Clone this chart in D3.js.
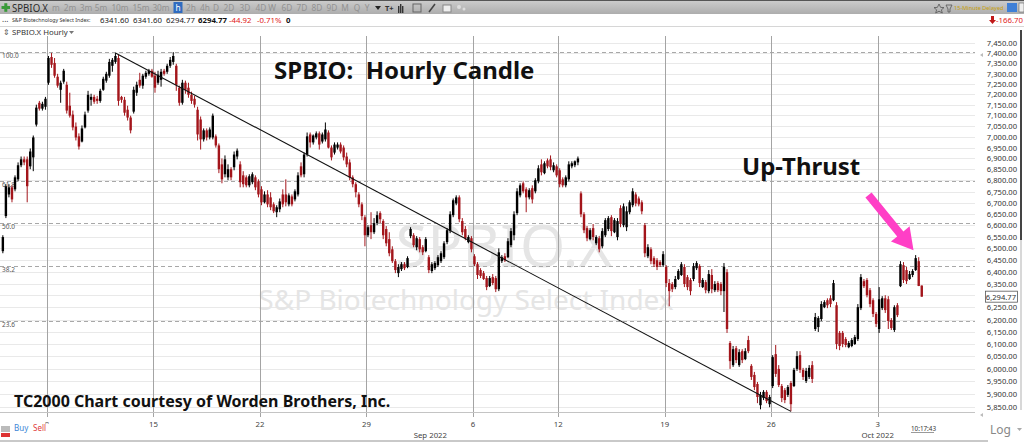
<!DOCTYPE html>
<html><head><meta charset="utf-8">
<script src="https://cdn.jsdelivr.net/npm/d3@7"></script>
<style>body{margin:0;background:#fff;} svg{display:block;} text{font-family:"Noto Sans","Open Sans",sans-serif;}</style>
</head><body><svg id="c" width="1024" height="442"></svg>
<script>
// ---------- DATA (hourly bars, SPBIO.X) ----------
const opens=[6488,6641,6737,6769,6760,6805,6869,6896,6896,6864,6905,7057,7160,7132,7141,
7256,7381,7352,7285,7222,7261,7246,7146,7104,7048,7002,6978,7044,7123,7174,7188,7179,7169,7222,7266,7290,7338,7357,7376,7188,7174,7127,7090,7118,7208,7270,7242,7285,7299,7314,
7290,7256,7270,7314,7309,7338,7357,7338,7232,7160,7256,7232,7198,7179,7127,7081,6988,7030,6997,6997,7002,6960,6873,6828,6814,6851,6860,6909,6873,6823,6814,6778,6792,6814,6796,
6760,6702,6737,6724,6693,6658,6671,6737,6737,6693,6728,6715,6737,6864,6828,6918,7011,6974,6997,7016,6978,6988,7020,6950,6927,6950,6964,6950,6909,6882,6814,6783,6737,6693,6636,
6557,6601,6570,6610,6654,6619,6584,6540,6496,6445,6394,6411,6432,6420,6553,6557,6505,6540,6505,6488,6462,6403,6415,6428,6445,6462,6527,6575,6645,6697,6724,6619,6584,6527,6544,
6466,6432,6407,6394,6373,6339,6377,6373,6326,6445,6466,6462,6514,6557,6654,6733,6787,6760,6724,6765,6751,6796,6873,6833,6891,6896,6846,6864,
6846,6805,6778,6805,6864,6869,6882,
6742,6649,6588,6540,6588,6522,6544,6509,6557,6584,6636,6570,6549,6676,6601,6592,6658,6689,6737,6719,6702,6601,6466,6496,6458,6449,6441,6428,
6420,6352,6348,6335,6369,6386,6420,6377,6365,6369,6415,6424,6335,6356,6318,6386,6322,6352,6348,6318,6398,6104,6015,6083,6015,6071,6039,6116,6012,5976,5940,5857,5885,5909,5861,
5932,6059,6000,5932,5916,5897,5944,5932,6000,6055,5996,5952,5968,6015,6161,6169,6202,6251,6280,6288,6280,6259,6145,6145,6120,6087,6092,6100,6120,6247,6360,6365,6322,6280,6223,
6161,6247,6288,6284,6198,6157,6259,6339,6428,6407,6369,6386,6407,6445,6341.60];
const highs=[6557,6783,6783,6778,6823,6882,6909,6909,6909,6946,7006,7151,7169,7165,7188,
7386,7401,7376,7299,7266,7323,7261,7208,7123,7067,7016,7053,7118,7217,7203,7198,7193,7227,7285,7309,7372,7376,7401,7391,7193,7188,7146,7099,7237,7261,7304,7299,7314,7323,7323,
7309,7314,7323,7323,7348,7381,7405,7348,7242,7270,7266,7256,7213,7193,7141,7095,7039,7039,7044,7109,7011,6969,6900,6914,6873,6860,6932,6946,6887,6842,6823,6828,6837,6823,6805,
6774,6751,6756,6747,6702,6689,6719,6760,6805,6742,6737,6760,6837,6882,6927,7020,7020,7011,7025,7025,7020,7067,7030,6960,6974,6974,6974,6960,6927,6896,6823,6792,6747,6702,6645,
6601,6658,6632,6662,6662,6627,6597,6570,6509,6454,6432,6441,6441,6466,6592,6566,6553,6549,6514,6549,6471,6441,6445,6471,6488,6531,6588,6662,6719,6733,6733,6632,6597,6557,6553,
6475,6441,6415,6403,6382,6382,6390,6382,6500,6471,6479,6544,6588,6662,6765,6787,6796,6769,6765,6778,6810,6869,6896,6887,6900,6914,6882,6873,
6855,6814,6823,6887,6887,6891,6909,
6751,6658,6597,6588,6606,6557,6553,6588,6632,6641,6645,6632,6632,6689,6697,6684,6711,6765,6747,6728,6711,6610,6518,6505,6466,6458,6449,6488,
6428,6369,6356,6382,6411,6441,6432,6386,6373,6437,6445,6432,6373,6365,6407,6411,6360,6360,6356,6437,6411,6112,6092,6092,6079,6079,6083,6133,6019,5988,5948,5909,5916,5916,5897,
6055,6096,6015,5940,5924,5936,5952,6004,6071,6071,6004,6004,6015,6031,6227,6214,6276,6280,6288,6301,6365,6272,6153,6153,6128,6112,6124,6137,6264,6390,6369,6373,6331,6288,6231,
6335,6297,6301,6297,6206,6259,6268,6445,6441,6420,6403,6411,6471,6462,6341.60];
const lows=[6479,6632,6724,6702,6751,6796,6860,6869,6702,6851,6842,7048,7123,7123,7127,
7246,7328,7280,7232,7160,7251,7109,7090,7030,6983,6941,6974,7039,7113,7146,7155,7155,7160,7217,7256,7280,7309,7348,7146,7160,7099,7076,7016,7109,7193,7232,7227,7275,7290,7280,
7208,7246,7237,7290,7299,7328,7343,7217,7146,7151,7203,7184,7155,7137,6983,6941,6978,6983,6988,6988,6950,6833,6787,6814,6801,6801,6846,6896,6769,6769,6769,6769,6783,6756,6724,
6689,6697,6680,6667,6654,6636,6658,6680,6684,6684,6684,6706,6728,6814,6814,6909,6950,6964,6988,6941,6969,6978,6946,6891,6918,6941,6923,6891,6860,6801,6769,6724,6680,6623,6509,
6549,6540,6562,6601,6610,6540,6509,6466,6437,6394,6377,6403,6407,6415,6544,6505,6492,6483,6471,6483,6394,6394,6407,6420,6437,6454,6518,6566,6636,6689,6614,6557,6535,6522,6483,
6424,6369,6373,6365,6322,6335,6343,6314,6318,6437,6441,6458,6505,6535,6645,6724,6742,6658,6715,6697,6742,6787,6823,6828,6855,6846,6837,6814,
6769,6769,6769,6796,6855,6860,6869,
6636,6566,6531,6535,6535,6514,6483,6500,6549,6575,6553,6566,6535,6592,6592,6575,6649,6680,6684,6684,6649,6462,6458,6432,6420,6407,6420,6420,
6335,6255,6314,6326,6365,6382,6335,6322,6301,6360,6407,6335,6331,6309,6309,6309,6314,6314,6301,6231,6145,6000,6008,6023,6008,6023,6035,6063,5956,5916,5865,5841,5877,5865,5849,
5924,5968,5928,5869,5865,5889,5833,5928,5992,5984,5956,5944,5960,5944,6153,6149,6194,6247,6247,6251,6276,6079,6075,6087,6087,6083,6087,6096,6112,6239,6331,6292,6251,6210,6169,
6145,6239,6227,6161,6157,6149,6210,6335,6352,6348,6365,6377,6403,6339,6294.77];
const closes=[6549,6774,6769,6715,6814,6869,6896,6882,6774,6932,6997,7137,7132,7155,7179,
7376,7343,7290,7242,7256,7314,7123,7099,7044,6997,6955,7039,7104,7198,7188,7165,7169,7217,7275,7299,7357,7367,7386,7169,7174,7113,7090,7030,7222,7246,7242,7290,7304,7314,7285,
7232,7295,7309,7299,7338,7367,7386,7246,7160,7256,7222,7198,7169,7151,7011,6988,7030,6997,7034,7099,6960,6851,6805,6896,6851,6814,6918,6936,6792,6783,6778,6819,6828,6769,6737,
6702,6737,6693,6680,6662,6680,6706,6693,6702,6733,6693,6751,6823,6823,6918,7002,6974,7006,7016,6964,7011,7034,6950,6905,6964,6964,6932,6905,6873,6814,6783,6747,6693,6641,6557,
6592,6570,6610,6645,6627,6557,6522,6479,6445,6407,6420,6432,6415,6458,6584,6514,6544,6496,6483,6540,6407,6432,6437,6462,6479,6522,6579,6649,6711,6724,6627,6570,6544,6549,6496,
6432,6386,6382,6369,6335,6373,6352,6326,6483,6462,6449,6531,6575,6649,6751,6778,6751,6724,6756,6715,6801,6855,6837,6878,6864,6860,6869,6823,
6783,6778,6814,6873,6878,6887,6900,
6649,6579,6544,6579,6549,6549,6496,6575,6623,6632,6575,6623,6619,6606,6684,6662,6702,6751,6697,6693,6662,6479,6505,6445,6432,6420,6428,6475,
6352,6318,6326,6369,6403,6432,6348,6335,6318,6424,6437,6352,6365,6322,6390,6326,6348,6322,6318,6420,6161,6031,6079,6035,6067,6035,6071,6071,5968,5928,5889,5897,5909,5873,5889,
6047,5980,5936,5885,5877,5928,5861,5996,6051,5996,5968,5992,6004,5960,6210,6206,6264,6272,6259,6264,6352,6100,6092,6100,6096,6104,6116,6128,6251,6377,6339,6301,6264,6223,6182,
6284,6288,6239,6194,6165,6251,6218,6432,6365,6360,6390,6403,6458,6339.69,6294.77];

const weekStartIdx=[15,50,85,120,155,183,218,253,288];
const weekLabels=["8","15","22","29","6","12","19","26","3"];
const monthStartIdx=[141,288];
const monthLabels=["Sep 2022","Oct 2022"];
const priceTicks=[5850,5900,5950,6000,6050,6100,6150,6200,6250,6300,6350,6400,6450,6500,6550,6600,6650,6700,6750,6800,6850,6900,6950,7000,7050,7100,7150,7200,7250,7300,7350,7400,7450];
const fibLevels=[100,61.8,50,38.2,23.6];
const fibLabels=["100.0","61.8","50.0","38.2","23.6"];
const fibHigh=7405, fibLow=5820;
const lastPrice=6294.77;
const trendPts=[{i:37,p:7401},{i:259,p:5833}];
const arrowPts=[{i:284.5,p:6735},{i:299.3,p:6492}];
const quote={name:"S&P Biotechnology Select Index:",o:"6341.60",h:"6341.60",l:"6294.77",c:"6294.77",chg:"-44.92",pct:"-0.71%",vol:"0"};
const timeframes=["m","2m","3m","5m","10m","15m","30m","h","2h","4h","D","2D","3D","4D","W","6D","7D","8D","9D","M","Q","Y"];

// ---------- SCALES ----------
const svg=d3.select("#c");
const PLOT_R=975, PLOT_T=36, PLOT_B=412;
const x=d3.scaleLinear().domain([-0.5,319.5]).range([1.33,PLOT_R]);
const y=d3.scaleLog().domain([5850,7450]).range([407,43]);
const RED="#a3151b", BLK="#000";

svg.append("rect").attr("width",1024).attr("height",442).attr("fill","#fff");

// ---------- header ----------
const grad=svg.append("defs").append("linearGradient").attr("id","tb").attr("x1",0).attr("x2",0).attr("y1",0).attr("y2",1);
grad.append("stop").attr("offset",0).attr("stop-color","#cdcdcd");
grad.append("stop").attr("offset",1).attr("stop-color","#adadad");
svg.append("rect").attr("x",0).attr("y",0).attr("width",1024).attr("height",14).attr("fill","url(#tb)");
svg.append("rect").attr("x",0).attr("y",0).attr("width",1024).attr("height",1).attr("fill","#555");
svg.append("rect").attr("x",1.5).attr("y",6).attr("width",8.5).attr("height",3).attr("fill","#3a9a3a");
svg.append("rect").attr("x",4.3).attr("y",3.2).attr("width",3).attr("height",8.6).attr("fill","#3a9a3a");
svg.append("text").attr("x",12).attr("y",11.5).attr("font-size",11).attr("textLength",36).attr("lengthAdjust","spacingAndGlyphs").attr("fill","#2b2b2b").text("SPBIO.X");
const tfX=[56,70,86,101,120,141,161,178,191,205,216,229,245,261,272,287,302,317,332,345,357,367];
svg.append("rect").attr("x",173.5).attr("y",2).attr("width",9).attr("height",11).attr("fill","#2f6cc0");
svg.selectAll("text.tf").data(timeframes).join("text").attr("class","tf").attr("x",(d,k)=>tfX[k]).attr("y",10.5)
  .attr("text-anchor","middle").attr("font-size",8.3).attr("fill",d=>d==="h"?"#fff":"#929292").text(d=>d);
svg.append("path").attr("d","M375,6 L381,6 L378,10 Z").attr("fill","#222");
svg.append("text").attr("x",385).attr("y",10.5).attr("font-size",7.5).attr("font-weight","bold").attr("fill","#333").text("T+");
[0,2,4].forEach((o,k)=>svg.append("rect").attr("x",398+o).attr("y",5+(k===1?-1:1)).attr("width",1.4).attr("height",7-(k===1?-2:0)).attr("fill","#333"));
svg.append("rect").attr("x",413).attr("y",4).attr("width",8).attr("height",8).attr("fill","none").attr("stroke","#666");
svg.append("line").attr("x1",429).attr("y1",12).attr("x2",435).attr("y2",4).attr("stroke","#444").attr("stroke-width",1.5);
svg.append("rect").attr("x",443).attr("y",5).attr("width",8).attr("height",7).attr("fill","#eee").attr("stroke","#888");
svg.append("circle").attr("cx",459).attr("cy",7).attr("r",2).attr("fill","#ddd");
svg.append("circle").attr("cx",464).attr("cy",9).attr("r",1.5).attr("fill","#ddd");
svg.append("path").attr("d","M939,4 L940.6,7.4 L944,7.6 L941.4,9.8 L942.3,13 L939,11.2 L935.7,13 L936.6,9.8 L934,7.6 L937.4,7.4 Z").attr("fill","none").attr("stroke","#555").attr("stroke-width",0.8);
svg.append("path").attr("d","M946,5 L952,5 L950,9 L950,12 L948,12 L948,9 Z").attr("fill","none").attr("stroke","#555").attr("stroke-width",0.8);
svg.append("text").attr("x",954).attr("y",10).attr("font-size",5.6).attr("fill","#c9a10a").text("15-Minute Delayed");
svg.append("rect").attr("x",1007).attr("y",3).attr("width",10).attr("height",9).attr("fill","#3f7fd6");
svg.append("rect").attr("x",1019).attr("y",3).attr("width",5).attr("height",9).attr("fill","#eee").attr("stroke","#666").attr("stroke-width",0.6);

svg.append("text").attr("x",2).attr("y",22).attr("font-size",8).attr("fill","#333").text("...");
svg.append("text").attr("x",12).attr("y",21.5).attr("font-size",5.2).attr("fill","#333").text(quote.name);
const q2=[[quote.o,100,"#222","normal"],[quote.h,133,"#222","normal"],[quote.l,166,"#222","normal"],[quote.c,198,"#111","bold"],[quote.chg,229,"#e02020","normal"],[quote.pct,257,"#e02020","normal"],[quote.vol,286,"#111","bold"]];
svg.selectAll("text.q").data(q2).join("text").attr("class","q").attr("x",d=>d[1]).attr("y",23).attr("font-size",7.8)
  .attr("fill",d=>d[2]).attr("font-weight",d=>d[3]).text(d=>d[0]);
svg.append("path").attr("d","M991,16 L994,16 L994,20 L996,20 L992.5,24 L989,20 L991,20 Z").attr("fill","#c01818");
svg.append("text").attr("x",996).attr("y",23).attr("font-size",7.8).attr("fill","#e02020").text("-166.70");
svg.append("line").attr("x1",0).attr("x2",1024).attr("y1",26.5).attr("y2",26.5).attr("stroke","#d6d6d6");
svg.append("text").attr("x",3).attr("y",35).attr("font-size",7.5).attr("fill","#555").text("\u21D5");
svg.append("text").attr("x",12).attr("y",35).attr("font-size",7.8).attr("fill","#333").text("SPBIO.X Hourly");
svg.append("path").attr("d","M69,31 L74,31 L71.5,34 Z").attr("fill","#777");

// ---------- plot ----------
const plot=svg.append("g");
plot.selectAll("line.hg").data(priceTicks).join("line").attr("class","hg")
  .attr("x1",0).attr("x2",PLOT_R).attr("y1",d=>Math.round(y(d))+0.5).attr("y2",d=>Math.round(y(d))+0.5)
  .attr("stroke","#e9e9e9").attr("stroke-width",1);
plot.append("text").attr("x",504).attr("y",267).attr("text-anchor","middle").attr("font-size",58)
  .attr("fill","#e5e5e5").text("SPBIO.X");
plot.append("text").attr("x",466).attr("y",310).attr("text-anchor","middle").attr("font-size",28)
  .attr("fill","#e5e5e5").text("S&P Biotechnology Select Index");
const fibY=l=>y(fibLow+l/100*(fibHigh-fibLow));
plot.selectAll("line.fib").data(fibLevels).join("line").attr("class","fib")
  .attr("x1",0).attr("x2",PLOT_R).attr("y1",d=>Math.round(fibY(d))+0.5).attr("y2",d=>Math.round(fibY(d))+0.5)
  .attr("stroke","#a8a8a8").attr("stroke-dasharray","4,3");
plot.selectAll("text.fibl").data(fibLevels).join("text").attr("class","fibl")
  .attr("x",2).attr("y",d=>fibY(d)+6).attr("font-size",6.5).attr("fill","#555").text((d,k)=>fibLabels[k]);
plot.selectAll("line.vg").data(weekStartIdx).join("line").attr("class","vg")
  .attr("x1",d=>Math.round(x(d-0.5))+0.5).attr("x2",d=>Math.round(x(d-0.5))+0.5).attr("y1",PLOT_T).attr("y2",PLOT_B+5)
  .attr("stroke","#a4a4a4");
plot.append("line").attr("x1",0).attr("x2",PLOT_R).attr("y1",PLOT_B+0.5).attr("y2",PLOT_B+0.5).attr("stroke","#c4c4c4");

svg.append("clipPath").attr("id","pc").append("rect").attr("x",0).attr("y",PLOT_T).attr("width",PLOT_R).attr("height",PLOT_B-PLOT_T+1);
const bars=opens.map((o,i)=>({i,o,h:highs[i],l:lows[i],c:closes[i]}));
const cg=plot.append("g").attr("clip-path","url(#pc)");
cg.selectAll("line.wick").data(bars).join("line").attr("class","wick")
  .attr("x1",d=>x(d.i)).attr("x2",d=>x(d.i)).attr("y1",d=>y(d.h)).attr("y2",d=>y(d.l))
  .attr("stroke",d=>d.c<d.o?RED:BLK).attr("stroke-width",1);
cg.selectAll("rect.body").data(bars).join("rect").attr("class","body")
  .attr("x",d=>x(d.i)-1.2).attr("width",2.4)
  .attr("y",d=>y(Math.max(d.o,d.c))).attr("height",d=>Math.max(1,Math.abs(y(d.o)-y(d.c))))
  .attr("fill",d=>d.c<d.o?RED:BLK);

plot.append("line").attr("x1",x(trendPts[0].i)).attr("y1",y(trendPts[0].p)).attr("x2",x(trendPts[1].i)).attr("y2",y(trendPts[1].p))
  .attr("stroke","#111").attr("stroke-width",1.1);

svg.append("text").attr("x",274).attr("y",78.5).attr("font-family","Liberation Sans, Arial, sans-serif").attr("font-weight","bold").attr("font-size",24).attr("fill","#111").attr("xml:space","preserve").text("SPBIO:  Hourly Candle");
svg.append("text").attr("x",742).attr("y",175).attr("font-family","Liberation Sans, Arial, sans-serif").attr("font-weight","bold").attr("font-size",24).attr("fill","#111").text("Up-Thrust");
svg.append("text").attr("x",14).attr("y",407).attr("font-family","Liberation Sans, Arial, sans-serif").attr("font-weight","bold").attr("font-size",16).attr("fill","#111").text("TC2000 Chart courtesy of Worden Brothers, Inc.");

(function(){
  const x0=x(arrowPts[0].i), y0=y(arrowPts[0].p), x1=x(arrowPts[1].i), y1=y(arrowPts[1].p);
  const dx=x1-x0, dy=y1-y0, L=Math.hypot(dx,dy), ux=dx/L, uy=dy/L, nx=-uy, ny=ux;
  const hl=21, hw=12, sw=4;
  const bx=x1-ux*hl, by=y1-uy*hl;
  const pts=[[x0+nx*sw,y0+ny*sw],[bx+nx*sw,by+ny*sw],[bx+nx*hw,by+ny*hw],[x1,y1],[bx-nx*hw,by-ny*hw],[bx-nx*sw,by-ny*sw],[x0-nx*sw,y0-ny*sw]];
  svg.append("polygon").attr("points",pts.map(p=>p.join(",")).join(" ")).attr("fill","#ff3fc6");
})();

// ---------- right axis ----------
const axisTicks=priceTicks.filter(t=>Math.abs(y(t)-y(lastPrice))>6);
svg.selectAll("text.yt").data(axisTicks).join("text").attr("class","yt")
  .attr("x",1017).attr("y",d=>y(d)+3).attr("text-anchor","end").attr("font-size",7.6).attr("fill","#333")
  .text(d=>d3.format(",.2f")(d));
svg.append("rect").attr("x",985.5).attr("y",y(lastPrice)-5.5).attr("width",32).attr("height",11).attr("fill","#fff").attr("stroke","#555").attr("stroke-width",0.8);
svg.append("text").attr("x",1016).attr("y",y(lastPrice)+3).attr("text-anchor","end").attr("font-size",7.6).attr("fill","#333").text(d3.format(",.2f")(lastPrice));
svg.append("path").attr("d","M983,53 L980,55 L983,57 Z").attr("fill","#bbb");
svg.append("path").attr("d","M983,413 L980,415 L983,417 Z").attr("fill","#bbb");
svg.append("rect").attr("x",1020).attr("y",30).attr("width",2).attr("height",210).attr("fill","#444");
svg.append("rect").attr("x",1020).attr("y",240).attr("width",2).attr("height",170).attr("fill","#d8d8d8");

// ---------- bottom axis ----------
svg.selectAll("text.xt").data(weekStartIdx).join("text").attr("class","xt")
  .attr("x",d=>x(d-0.5)).attr("y",427).attr("text-anchor","middle").attr("font-size",7.8).attr("fill","#444")
  .text((d,k)=>weekLabels[k]);
svg.selectAll("text.mt").data(monthStartIdx).join("text").attr("class","mt")
  .attr("x",d=>x(d-0.5)).attr("y",437.5).attr("text-anchor","middle").attr("font-size",7.8).attr("fill","#444").text((d,k)=>monthLabels[k]);
// buy/sell panel (covers lower part of first week label, as in the source screenshot)
svg.append("rect").attr("x",0).attr("y",423.6).attr("width",51).attr("height",16.4).attr("fill","#fff");
svg.append("rect").attr("x",1).attr("y",426).attr("width",9).attr("height",6).attr("fill","#bbb");
svg.append("rect").attr("x",1).attr("y",433).attr("width",9).attr("height",4).attr("fill","#d33");
svg.append("text").attr("x",14).attr("y",431).attr("font-size",8).attr("fill","#3b86d6").text("Buy");
svg.append("text").attr("x",33).attr("y",431).attr("font-size",8).attr("fill","#e03a3a").text("Sell");
svg.append("text").attr("x",911).attr("y",431).attr("font-size",6.3).attr("fill","#333").text("10:17:43");
svg.append("line").attr("x1",911).attr("x2",934).attr("y1",432.5).attr("y2",432.5).attr("stroke","#555").attr("stroke-width",0.6);
svg.append("text").attr("x",990).attr("y",434).attr("font-size",12).attr("fill","#888").text("Log");
svg.append("path").attr("d","M1017,428 L1022,428 L1019.5,431 Z").attr("fill","#aaa");
svg.append("rect").attr("x",0).attr("y",440).attr("width",988).attr("height",2).attr("fill","#c9c9c9");
</script></body></html>
